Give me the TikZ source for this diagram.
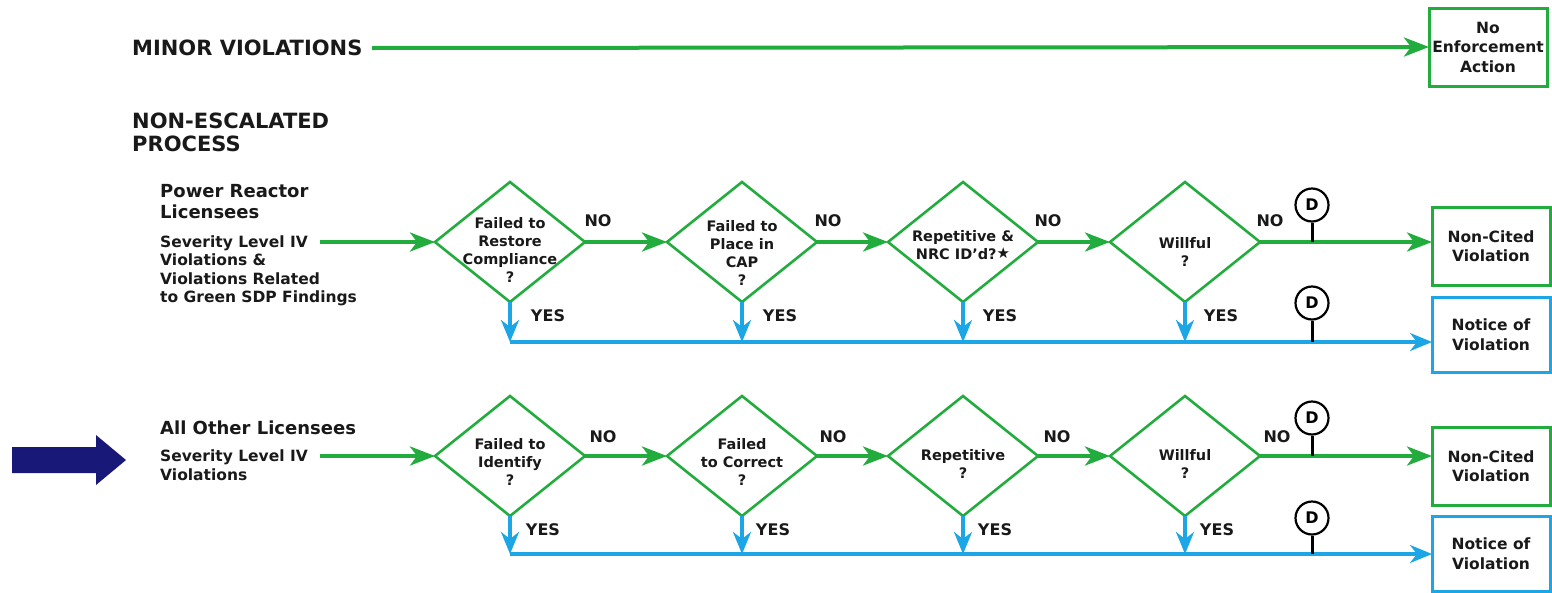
\documentclass[tikz,border=0pt]{standalone}
\usepackage{fontspec}
\setmainfont{DejaVu Sans}
\usetikzlibrary{arrows.meta,shapes.geometric}
\definecolor{fgreen}{RGB}{34,172,62}
\definecolor{fblue}{RGB}{28,166,230}
\definecolor{fnavy}{RGB}{24,24,120}
\definecolor{ftext}{RGB}{25,25,25}
\begin{document}
\begin{tikzpicture}[x=1pt,y=-1pt,
  garrow/.style={draw=fgreen, line width=4pt, -{Stealth[length=25pt,width=19pt,inset=7pt]}},
  barrow/.style={draw=fblue, line width=3.5pt, -{Stealth[length=22pt,width=18pt,inset=7pt]}},
  bline/.style={draw=fblue, line width=3.5pt},
  dia/.style={diamond, draw=fgreen, line width=2.6pt, minimum width=150pt, minimum height=120pt, inner sep=0pt, outer sep=0pt, fill=white},
  dtext/.style={font=\fontsize{14.5}{18.3}\selectfont\bfseries, align=center, text=ftext, inner sep=0pt},
  gbox/.style={draw=fgreen, line width=3pt, minimum width=118pt, minimum height=78pt, inner sep=0pt, outer sep=0pt, align=center, text=ftext, font=\fontsize{15.5}{19.5}\selectfont\bfseries},
  bbox/.style={gbox, draw=fblue, minimum height=75pt},
  dcirc/.style={circle, draw=black, fill=white, line width=2.2pt, minimum size=33pt, inner sep=0pt, font=\fontsize{16}{16}\selectfont\bfseries},
  stem/.style={draw=black, line width=3pt},
  lab/.style={font=\fontsize{16}{16}\selectfont\bfseries, text=ftext, inner sep=0pt},
  head/.style={font=\fontsize{21}{23}\selectfont\bfseries, text=ftext, align=left, inner sep=0pt, anchor=west},
  sub/.style={font=\fontsize{18}{21}\selectfont\bfseries, text=ftext, align=left, inner sep=0pt, anchor=west},
  small/.style={font=\fontsize{15.5}{18.5}\selectfont\bfseries, text=ftext, align=left, inner sep=0pt, anchor=west}
]
\useasboundingbox (0,0) rectangle (1552,592);

% ---------- Minor violations ----------
\node[head] (minor) at (132,48) {MINOR VIOLATIONS};
\node[gbox] (noea) at (1488,47) {No\\Enforcement\\Action};
\coordinate (minorS) at (372,48);
\draw[garrow] (minorS) -- (noea.west);

\node[head] (nonesc) at (132,132) {NON-ESCALATED\\PROCESS};

% ---------- Row 1: Power reactor licensees ----------
\node[sub] (prl) at (160,202) {Power Reactor\\Licensees};
\node[small] (prlsub) at (160,271) {Severity Level IV\\Violations \&\\Violations Related\\to Green SDP Findings};
\coordinate (r1s) at (320,242);

\node[dia] (d11) at (510,242) {};
\node[dia] (d12) at (742,242) {};
\node[dia] (d13) at (963,242) {};
\node[dia] (d14) at (1185,242) {};
\node[dtext] (t11) at (510,250) {Failed to\\Restore\\Compliance\\?};
\node[dtext] (t12) at (742,253) {Failed to\\Place in\\CAP\\?};
\node[dtext] (t13) at (963,245) {Repetitive \&\\NRC ID’d?{\fontsize{15}{15}\selectfont\raisebox{1pt}{★}}};
\node[dtext] (t14) at (1185,252) {Willful\\?};

\node[gbox] (nc1) at (1491,246) {Non-Cited\\Violation};
\node[bbox] (nv1) at (1491,334.5) {Notice of\\Violation};

\draw[garrow] (r1s) -- (d11.west);
\draw[garrow] (d11.east) -- (d12.west);
\draw[garrow] (d12.east) -- (d13.west);
\draw[garrow] (d13.east) -- (d14.west);
\draw[garrow] (d14.east) -- (d14.east -| nc1.west);

\coordinate (y11) at (510,342);
\coordinate (y12) at (742,342);
\coordinate (y13) at (963,342);
\coordinate (y14) at (1185,342);
\draw[bline] (y11) -- (y14);
\draw[barrow] (y14) -- (y14 -| nv1.west);
\draw[barrow] (d11.south) -- (y11);
\draw[barrow] (d12.south) -- (y12);
\draw[barrow] (d13.south) -- (y13);
\draw[barrow] (d14.south) -- (y14);

\node[lab] (no11) at (598,221) {NO};
\node[lab] (no12) at (828,221) {NO};
\node[lab] (no13) at (1048,221) {NO};
\node[lab] (no14) at (1270,221) {NO};
\node[lab] (ys11) at (548,316) {YES};
\node[lab] (ys12) at (780,316) {YES};
\node[lab] (ys13) at (1000,316) {YES};
\node[lab] (ys14) at (1221,316) {YES};

\coordinate (s1g) at (1312,242);
\node[dcirc] (D1g) at (1312,205) {D};
\draw[stem] (D1g.south) -- (s1g);
\coordinate (s1b) at (1312,342);
\node[dcirc] (D1b) at (1312,303) {D};
\draw[stem] (D1b.south) -- (s1b);

% ---------- Row 2: All other licensees ----------
\fill[fnavy] (12,447) -- (96,447) -- (96,435) -- (126,460) -- (96,485) -- (96,473) -- (12,473) -- cycle;
\node[sub] (aol) at (160,427.5) {All Other Licensees};
\node[small] (aolsub) at (160,465) {Severity Level IV\\Violations};
\coordinate (r2s) at (320,456);

\node[dia] (d21) at (510,456) {};
\node[dia] (d22) at (742,456) {};
\node[dia] (d23) at (963,456) {};
\node[dia] (d24) at (1185,456) {};
\node[dtext] (t21) at (510,462) {Failed to\\Identify\\?};
\node[dtext] (t22) at (742,462) {Failed\\to Correct\\?};
\node[dtext] (t23) at (963,464) {Repetitive\\?};
\node[dtext] (t24) at (1185,464) {Willful\\?};

\node[gbox] (nc2) at (1491,466) {Non-Cited\\Violation};
\node[bbox] (nv2) at (1491,553.5) {Notice of\\Violation};

\draw[garrow] (r2s) -- (d21.west);
\draw[garrow] (d21.east) -- (d22.west);
\draw[garrow] (d22.east) -- (d23.west);
\draw[garrow] (d23.east) -- (d24.west);
\draw[garrow] (d24.east) -- (d24.east -| nc2.west);

\coordinate (y21) at (510,554);
\coordinate (y22) at (742,554);
\coordinate (y23) at (963,554);
\coordinate (y24) at (1185,554);
\draw[bline] (y21) -- (y24);
\draw[barrow] (y24) -- (y24 -| nv2.west);
\draw[barrow] (d21.south) -- (y21);
\draw[barrow] (d22.south) -- (y22);
\draw[barrow] (d23.south) -- (y23);
\draw[barrow] (d24.south) -- (y24);

\node[lab] (no21) at (603,437) {NO};
\node[lab] (no22) at (833,437) {NO};
\node[lab] (no23) at (1057,437) {NO};
\node[lab] (no24) at (1277,437) {NO};
\node[lab] (ys21) at (543,530) {YES};
\node[lab] (ys22) at (773,530) {YES};
\node[lab] (ys23) at (995,530) {YES};
\node[lab] (ys24) at (1217,530) {YES};

\coordinate (s2g) at (1312,456);
\node[dcirc] (D2g) at (1312,418) {D};
\draw[stem] (D2g.south) -- (s2g);
\coordinate (s2b) at (1312,554);
\node[dcirc] (D2b) at (1312,518) {D};
\draw[stem] (D2b.south) -- (s2b);
\end{tikzpicture}
\end{document}
